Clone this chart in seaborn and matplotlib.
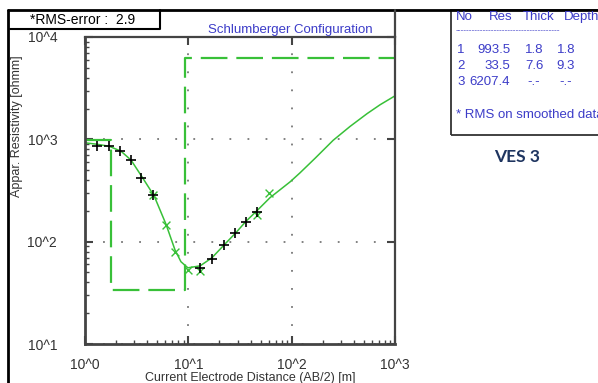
import matplotlib
matplotlib.use("Agg")
import matplotlib.pyplot as plt
import seaborn as sns
from matplotlib.lines import Line2D
from matplotlib.patches import Rectangle
from matplotlib.ticker import LogLocator, NullFormatter

# VES 3 sounding data
ab2_meas = [1.3, 1.7, 2.2, 2.8, 3.5, 4.6, 13, 17, 22, 28, 36, 46]
rho_meas = [869, 861, 771, 622, 420, 283, 55.5, 68, 92, 122, 154, 196]

ab2_smooth = [4.6, 6.1, 7.5, 10, 13, 46, 61]
rho_smooth = [283, 145, 79, 53, 52, 182, 296]

ab2_fit = [1.0, 1.31, 1.71, 2.23, 2.79, 3.56, 4.66, 6.08, 7.43, 8.48, 9.9, 13.0,
           16.9, 22.1, 29.0, 36.1, 46.2, 61.7, 96.5, 120, 169, 252, 367, 537,
           718, 1000]
rho_fit = [925, 895, 856, 766, 627, 430, 281, 148, 83, 63.7, 55.5, 58,
           69.5, 92.5, 123, 158, 201, 269, 384, 469, 655, 978, 1336, 1783,
           2179, 2660]

# layered model
layer_no = ["1", "2", "3"]
layer_res = [993.5, 33.5, 6207.4]
layer_thick = ["1.8", "7.6", "-.-"]
layer_depth = [1.8, 9.3]
x_ticks = [1, 10, 100, 1000]
x_ticklabels = ["10^0", "10^1", "10^2", "10^3"]
y_ticks = [10, 100, 1000, 10000]
y_ticklabels = ["10^1", "10^2", "10^3", "10^4"]

green = "#38c038"
blue = "#3c3cc8"
spine_col = "#444444"

sns.set_style("ticks", {"xtick.direction": "in", "ytick.direction": "in"})
plt.rcParams["font.family"] = ["Liberation Sans", "DejaVu Sans"]

W, H = 598, 383
fig = plt.figure(figsize=(W / 100, H / 100), dpi=100)
fig.patch.set_facecolor("white")


def fx(px):
    return px / W


def fy(py):
    return 1 - py / H


ax = fig.add_axes([fx(85), fy(344), fx(395) - fx(85), fy(37) - fy(344)])
ax.set_xscale("log")
ax.set_yscale("log")

# model step line built from the layer table
step_x = [1]
step_y = [layer_res[0]]
for d, r0, r1 in zip(layer_depth, layer_res[:-1], layer_res[1:]):
    step_x += [d, d]
    step_y += [r0, r1]
step_x.append(1000)
step_y.append(layer_res[-1])

sns.lineplot(x=step_x, y=step_y, sort=False, estimator=None, ax=ax,
             color=green, lw=1.6, dashes=False, linestyle=(0, (12, 4)))
sns.lineplot(x=ab2_fit, y=rho_fit, sort=False, estimator=None, ax=ax,
             color=green, lw=1.1)
sns.scatterplot(x=ab2_smooth, y=rho_smooth, marker="x", s=32, color=green,
                linewidth=1.0, ax=ax, zorder=4)
sns.scatterplot(x=ab2_meas, y=rho_meas, marker="+", s=60, color="black",
                linewidth=1.2, ax=ax, zorder=5)

ax.set_xlim(1, 1000)
ax.set_ylim(10, 10000)
ax.set_xticks(x_ticks)
ax.set_xticklabels(x_ticklabels)
ax.set_yticks(y_ticks)
ax.set_yticklabels(y_ticklabels)
ax.xaxis.set_minor_locator(LogLocator(base=10, subs=range(2, 10)))
ax.yaxis.set_minor_locator(LogLocator(base=10, subs=range(2, 10)))
ax.xaxis.set_minor_formatter(NullFormatter())
ax.yaxis.set_minor_formatter(NullFormatter())
ax.tick_params(which="major", direction="in", length=6, width=1.5,
               color=spine_col, top=True, right=True, labelsize=10,
               labelcolor="#333333")
ax.tick_params(axis="x", which="major", pad=10)
ax.tick_params(axis="y", which="major", pad=20)
ax.tick_params(which="minor", direction="in", length=3, width=1,
               color=spine_col, top=False, right=False)
ax.grid(True, which="major", linestyle=(0, (1, 9)), color="#777777", lw=1.3)
for s in ax.spines.values():
    s.set_color(spine_col)
    s.set_linewidth(1.6)
ax.spines["left"].set_linewidth(2)
ax.spines["bottom"].set_linewidth(2)
ax.set_xlabel("")
ax.set_ylabel("")

fig.text(fx(17), fy(126), "Appar. Resistivity [ohmm]", rotation=90,
         ha="center", va="center", fontsize=9, color="#333333")
fig.text(fx(250), fy(378), "Current Electrode Distance (AB/2) [m]",
         ha="center", va="center", fontsize=9, color="#333333")
fig.text(fx(290), fy(30), "Schlumberger Configuration", ha="center",
         va="center", fontsize=9.5, color=blue)

# frame lines and boxes
fig.add_artist(Line2D([fx(8), fx(598)], [fy(10), fy(10)], color="black", lw=2))
fig.add_artist(Line2D([fx(8), fx(8)], [fy(10), fy(383)], color="black", lw=2))
fig.add_artist(Line2D([fx(395), fx(395)], [fy(10), fy(37)], color=spine_col, lw=1.6))
fig.add_artist(Line2D([fx(10), fx(160), fx(160)], [fy(29), fy(29), fy(10)],
                      color="black", lw=1.5))
fig.text(fx(30), fy(20), "*RMS-error :  2.9", ha="left", va="center",
         fontsize=10, color="black")

fig.add_artist(Rectangle((fx(451), fy(135)), fx(160), fy(10) - fy(135),
                         fill=False, edgecolor="#333333", lw=1.3))

tfs = 9.5
fig.text(fx(456), fy(17), "No", ha="left", va="center", fontsize=tfs, color=blue)
fig.text(fx(489), fy(17), "Res", ha="left", va="center", fontsize=tfs, color=blue)
fig.text(fx(523), fy(17), "Thick", ha="left", va="center", fontsize=tfs, color=blue)
fig.text(fx(564), fy(17), "Depth", ha="left", va="center", fontsize=tfs, color=blue)
fig.text(fx(456), fy(31), "-" * 38, ha="left", va="center", fontsize=6, color=blue)

depth_txt = [f"{d:.1f}" for d in layer_depth] + ["-.-"]
for i, (n, r, t, d) in enumerate(zip(layer_no, layer_res, layer_thick, depth_txt)):
    yy = fy(50 + 16 * i)
    fig.text(fx(461), yy, n, ha="center", va="center", fontsize=tfs, color=blue)
    fig.text(fx(510), yy, f"{r:.1f}", ha="right", va="center", fontsize=tfs, color=blue)
    fig.text(fx(534), yy, t, ha="center", va="center", fontsize=tfs, color=blue)
    fig.text(fx(566), yy, d, ha="center", va="center", fontsize=tfs, color=blue)

fig.text(fx(456), fy(115), "* RMS on smoothed data", ha="left", va="center",
         fontsize=tfs, color=blue)
fig.text(fx(517), fy(157), "VES 3", ha="center", va="center", fontsize=12.5,
         fontweight="bold", color="#1f3560", family=["Lato", "DejaVu Sans"])

fig.savefig("out.png", dpi=100)
